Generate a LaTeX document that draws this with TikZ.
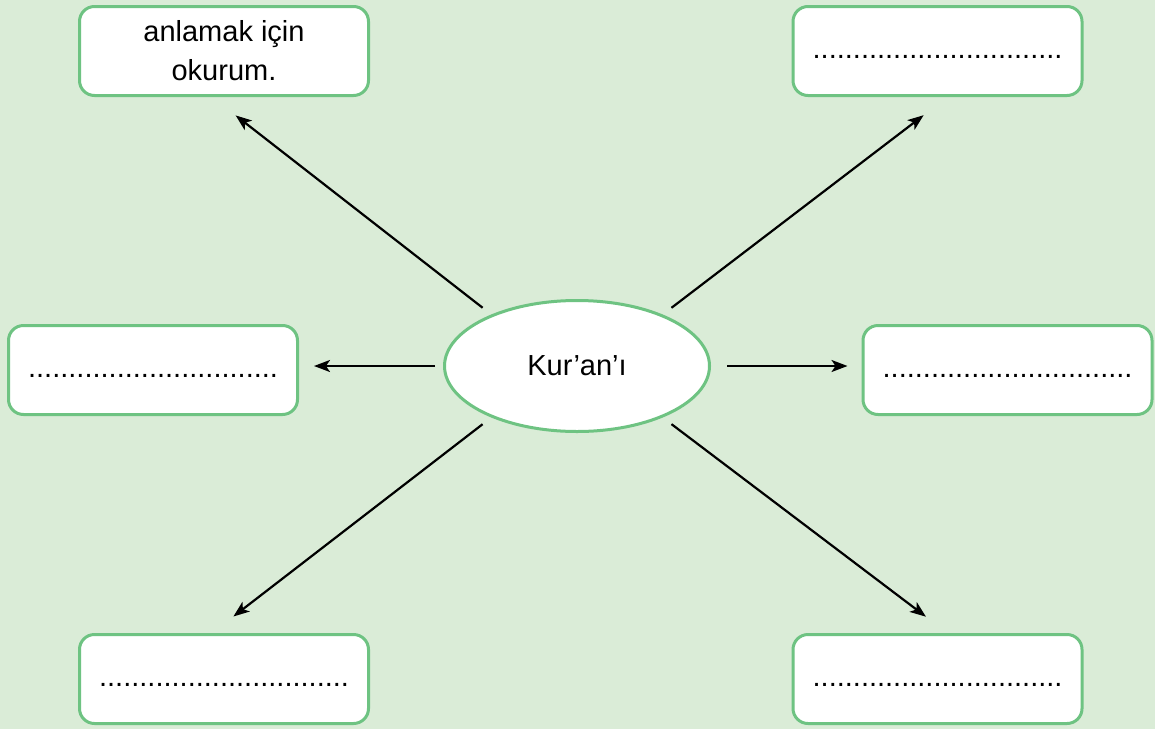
\documentclass[tikz,border=0pt]{standalone}
\usepackage{fontspec}
\setmainfont{Liberation Sans}
\usetikzlibrary{shapes.geometric,arrows.meta}

\definecolor{bggreen}{RGB}{218,236,215}
\definecolor{edgegreen}{RGB}{110,195,130}

\begin{document}
\begin{tikzpicture}[
  x=1pt, y=-1pt,
  box/.style={draw=edgegreen, line width=3pt, fill=white, rounded corners=15pt,
    minimum width=289pt, minimum height=89pt, align=center,
    font=\fontsize{29}{39}\selectfont},
  blank/.style={box, text height=21pt, text depth=6pt},
  arr/.style={-{Stealth[length=16pt,width=12pt,inset=4pt]}, line width=2.2pt},
]

\useasboundingbox (0,0) rectangle (1155,728);
\fill [bggreen] (-5,-5) rectangle (1160,735);

\node [draw=edgegreen, line width=3pt, fill=white, ellipse, inner sep=0pt,
  minimum width=265pt, minimum height=131pt,
  font=\fontsize{29}{34}\selectfont] (kuran) at (577,366) {Kur’an’ı};

\node [box] (tl) at (224,51) {anlamak için\\okurum.};
\node [blank] (tr) at (937.5,51) {...............................};
\node [blank] (lm) at (153,370) {...............................};
\node [blank] (rm) at (1007.5,370) {...............................};
\node [blank] (bl) at (224,679) {...............................};
\node [blank] (br) at (937.5,679) {...............................};

\draw [arr, shorten <=11pt, shorten >=30pt] (kuran.149) -- ([xshift=-12pt]tl.south);
\draw [arr, shorten <=11pt, shorten >=30pt] (kuran.31) -- ([xshift=10pt]tr.south);
\draw [arr, shorten <=8pt, shorten >=15pt] (kuran.west) -- (kuran.west -| lm.east);
\draw [arr, shorten <=16pt, shorten >=14pt] (kuran.east) -- (kuran.east -| rm.west);
\draw [arr, shorten <=11pt, shorten >=27pt] (kuran.211) -- ([xshift=-12pt]bl.north);
\draw [arr, shorten <=11pt, shorten >=27pt] (kuran.329) -- ([xshift=10pt]br.north);

\end{tikzpicture}
\end{document}
